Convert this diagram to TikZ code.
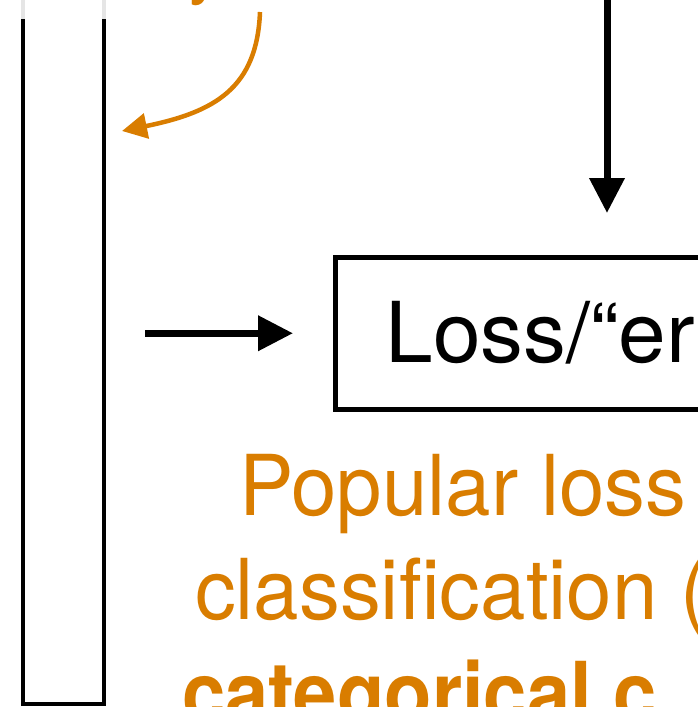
\documentclass[tikz,border=0pt]{standalone}
\usepackage{fontspec}
\setmainfont{TeX Gyre Heros}
\newfontfamily\narrowfam[FakeStretch=0.972]{TeX Gyre Heros}
\newfontfamily\boldfam[FakeStretch=0.925]{TeX Gyre Heros}
\newfontfamily\widefam[FakeStretch=1.02]{TeX Gyre Heros}
\usetikzlibrary{arrows.meta,calc}
\definecolor{accent}{RGB}{217,125,0}
\begin{document}
\begin{tikzpicture}[x=1pt,y=1pt,
  big/.style={inner sep=0pt, outer sep=0pt, anchor=base west},
  blackarrow/.style={line width=7pt, -{Triangle[length=35pt,width=34pt]}},
  orangearrow/.style={accent, line width=4.5pt, -{Triangle[length=25pt,width=25pt]}}]
\useasboundingbox (0,0) rectangle (698,-707);
% tall column (top lies above the view)
\node[draw, line width=4.5pt, minimum width=81pt, minimum height=804pt, inner sep=0pt, outer sep=0pt] (col) at (63.5,-302) {};
\draw[black!10, line width=4.5pt] (col.north west |- 0,0) -- (col.north west |- 0,-18.5)
                                  (col.north east |- 0,0) -- (col.north east |- 0,-18.5);
% loss box
\node[draw, line width=5pt, minimum width=700pt, minimum height=152.5pt, inner sep=0pt, outer sep=0pt, anchor=north west] (loss) at (335.5,-257) {};
\node[big, font=\widefam\fontsize{84}{100}\selectfont] (losstext) at (385.5,-362) {Loss/“er};
% arrows
\coordinate (vtop) at (607,5);
\coordinate (hstart) at (145,-333.25);
\draw[blackarrow, shorten >=44pt] (vtop) -- (vtop |- loss.north west);
\draw[blackarrow, shorten >=42.5pt] (hstart) -- (loss.west);
% orange annotation
\node[accent, font=\fontsize{70}{84}\selectfont, inner sep=0pt, anchor=base west] (ytext) at (188,10) {y};
\coordinate (cstart) at (260,-12);
\coordinate (ctip) at (122,-131);
\draw[orangearrow] (cstart) .. controls (257,-88) and (215,-112) .. (ctip);
% orange text
\node[big, text=accent, font=\narrowfam\fontsize{84}{100}\selectfont] (l1) at (239,-515) {Popular loss};
\node[big, text=accent, font=\narrowfam\fontsize{84}{100}\selectfont] (l2) at (195,-619) {classification (};
\node[big, text=accent, font=\boldfam\bfseries\fontsize{84}{100}\selectfont] (l3) at (182,-722) {categorical c};
\end{tikzpicture}
\end{document}
